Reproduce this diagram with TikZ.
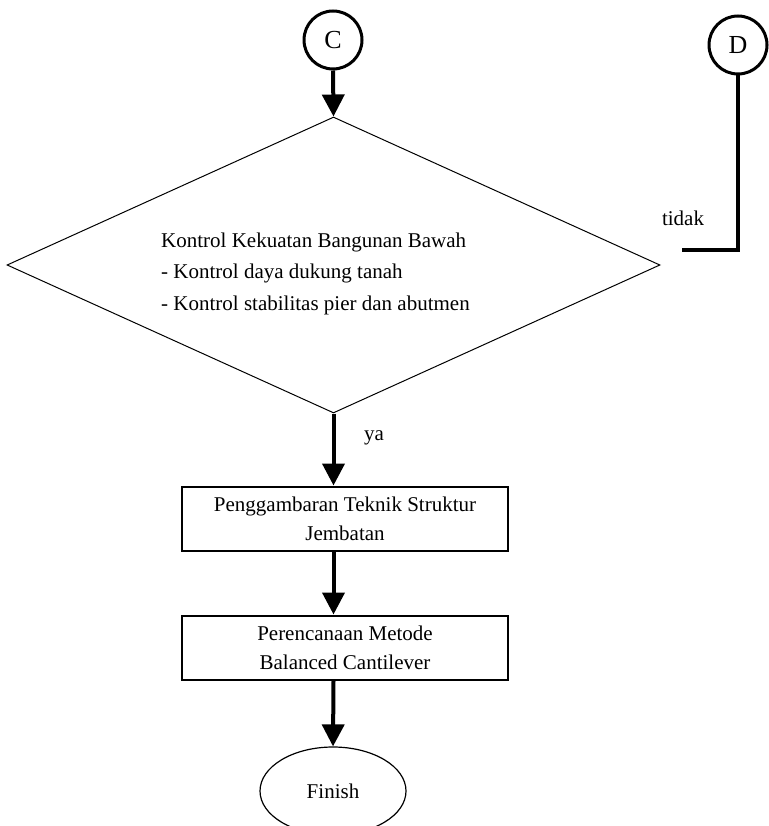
\documentclass[tikz,border=0pt]{standalone}
\usepackage{fontspec}
\setmainfont{Liberation Serif}
\usetikzlibrary{arrows.meta,shapes.geometric}
\begin{document}
\begin{tikzpicture}[x=1pt,y=-1pt,
  conn/.style={line width=4pt,-{Triangle[width=22pt,length=22pt]}},
  plainconn/.style={line width=4pt},
  circ/.style={circle,draw,line width=3pt,minimum size=58pt,inner sep=0pt,font=\fontsize{26}{30}\selectfont},
  boxnode/.style={rectangle,draw,line width=2pt,minimum width=326pt,minimum height=64pt,inner sep=0pt,align=center,font=\fontsize{21}{29}\selectfont},
  lbl/.style={font=\fontsize{21}{24}\selectfont,inner sep=0pt},
  dline/.style={lbl,anchor=base west}
]
\useasboundingbox (0,0) rectangle (768,826);
\node[circ] (C) at (333,40) {C};
\node[circ] (D) at (738,45) {D};
\node[diamond,draw,line width=1pt,minimum width=653pt,minimum height=296pt,inner sep=0pt] (dia) at (333.5,265) {};
\node[dline] (l1) at (161,247) {Kontrol Kekuatan Bangunan Bawah};
\node[dline] (l2) at (161,278) {- Kontrol daya dukung tanah};
\node[dline] (l3) at (161,310) {- Kontrol stabilitas pier dan abutmen};
\node[boxnode] (b1) at (345,518.5) {Penggambaran Teknik Struktur\\Jembatan};
\node[boxnode] (b2) at (345,647.5) {Perencanaan Metode\\Balanced Cantilever};
\node[ellipse,draw,line width=1.2pt,minimum width=146pt,minimum height=88pt,inner sep=0pt,font=\fontsize{21}{24}\selectfont] (fin) at (333,791) {Finish};
\node[lbl] (tidak) at (683,218) {tidak};
\node[lbl] (ya) at (374,438) {ya};
\coordinate (tend) at (682,250);
\draw[conn] (C.south) -- (dia.north);
\draw[plainconn] (D.south) |- (tend);
\draw[conn] (dia.south) -- (b1.north -| dia.south);
\draw[conn] (b1.south -| dia.south) -- (b2.north -| dia.south);
\draw[conn] (b2.south -| dia.south) -- (fin.north);
\end{tikzpicture}
\end{document}
